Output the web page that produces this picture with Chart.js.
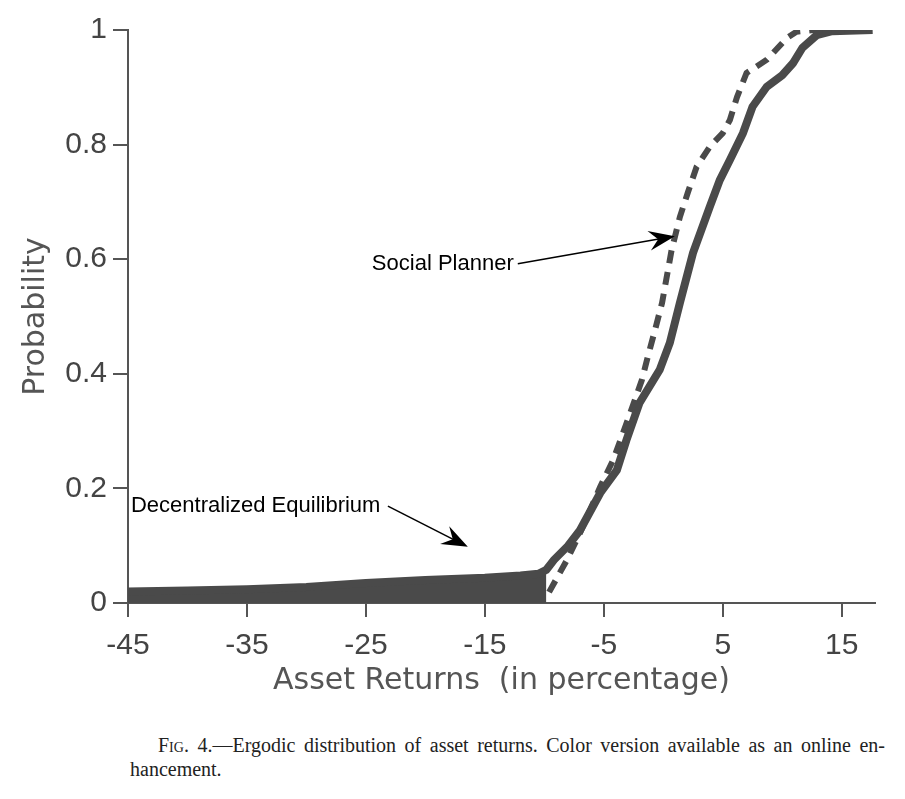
<!DOCTYPE html>
<html>
<head>
<meta charset="utf-8">
<script src="https://cdn.jsdelivr.net/npm/chart.js@4"></script>
<style>
  body { margin: 0; background: #fff; }
  #wrap { position: relative; width: 905px; height: 799px; }
  #chart { position: absolute; left: 0; top: 0; }
  .caption { position: absolute; left: 130px; top: 733px; width: 755px;
    font-family: "Liberation Serif", "DejaVu Serif", serif; font-size: 20px; line-height: 24px; color: #222; }
  .l1 { text-indent: 28px; text-align: justify; text-align-last: justify; }
  .sc { font-variant: small-caps; }
</style>
</head>
<body>
<div id="wrap">
  <canvas id="chart" width="905" height="700"></canvas>
  <div class="caption">
    <div class="l1"><span class="sc">Fig.</span> 4.—Ergodic distribution of asset returns. Color version available as an online en-</div>
    <div>hancement.</div>
  </div>
</div>
<script>
// data
var xTicks = [-45, -35, -25, -15, -5, 5, 15];
var yTicks = [0, 0.2, 0.4, 0.6, 0.8, 1];

var decX = [-45, -40, -35, -30, -25, -20, -15, -12, -10.5, -9.83, -9.2, -8, -7, -5.3, -3.9, -3.1, -2.0, -0.3, 0.55, 1.4, 2.5, 3.9, 4.75, 5.6, 6.7, 7.5, 8.7, 10.0, 10.9, 11.7, 12.9, 14.2, 17.6];
var decY = [0.020, 0.022, 0.024, 0.028, 0.035, 0.040, 0.044, 0.048, 0.051, 0.058, 0.075, 0.100, 0.127, 0.192, 0.232, 0.284, 0.349, 0.407, 0.454, 0.524, 0.611, 0.691, 0.738, 0.773, 0.820, 0.866, 0.901, 0.921, 0.942, 0.969, 0.991, 0.998, 1.0];

// shaded part of the decentralized curve
var shadeX = [-45, -40, -35, -30, -25, -20, -15, -12, -10.5, -9.83];
var shadeY = [0.020, 0.022, 0.024, 0.028, 0.035, 0.040, 0.044, 0.048, 0.051, 0.058];

var planX = [-9.6, -8.1, -7.0, -5.3, -4.2, -3.4, -2.6, -1.8, -1.3, -0.7, -0.1, 0.7, 1.4, 2.06, 2.8, 3.9, 5.0, 5.6, 6.2, 7.0, 8.7, 10.4, 11.2, 12.6, 17.6];
var planY = [0.019, 0.075, 0.122, 0.203, 0.250, 0.296, 0.342, 0.389, 0.430, 0.476, 0.524, 0.616, 0.674, 0.716, 0.761, 0.796, 0.820, 0.843, 0.883, 0.925, 0.948, 0.986, 0.997, 1.0, 1.0];

// annotation labels in data units
var notes = [
  { text: 'Social Planner', x: -24.5, y: 0.592, from: [-12.23, 0.592], to: [0.97, 0.640] },
  { text: 'Decentralized Equilibrium', x: -44.75, y: 0.169, from: [-23.15, 0.169], to: [-16.43, 0.098] }
];

function pts(xs, ys) {
  return xs.map(function (x, i) { return { x: x, y: ys[i] }; });
}

var lineColor = '#4a4a4a';
var axisColor = '#555';

var notesPlugin = {
  id: 'notes',
  afterDatasetsDraw: function (chart) {
    var ctx = chart.ctx, xs = chart.scales.x, ys = chart.scales.y;
    ctx.save();
    ctx.font = '22px "Liberation Sans", Arial, sans-serif';
    ctx.fillStyle = '#000';
    ctx.strokeStyle = '#000';
    ctx.textBaseline = 'middle';
    notes.forEach(function (n) {
      ctx.fillText(n.text, xs.getPixelForValue(n.x), ys.getPixelForValue(n.y));
      var x0 = xs.getPixelForValue(n.from[0]), y0 = ys.getPixelForValue(n.from[1]);
      var x1 = xs.getPixelForValue(n.to[0]), y1 = ys.getPixelForValue(n.to[1]);
      var a = Math.atan2(y1 - y0, x1 - x0);
      var len = 26, half = 10;
      ctx.lineWidth = 1.5;
      ctx.beginPath();
      ctx.moveTo(x0, y0);
      ctx.lineTo(x1 - Math.cos(a) * 12, y1 - Math.sin(a) * 12);
      ctx.stroke();
      // swept arrow head
      var bx = x1 - Math.cos(a) * len, by = y1 - Math.sin(a) * len;
      var nx = x1 - Math.cos(a) * len * 0.65, ny = y1 - Math.sin(a) * len * 0.65;
      ctx.beginPath();
      ctx.moveTo(x1, y1);
      ctx.lineTo(bx - Math.sin(a) * half, by + Math.cos(a) * half);
      ctx.lineTo(nx, ny);
      ctx.lineTo(bx + Math.sin(a) * half, by - Math.cos(a) * half);
      ctx.closePath();
      ctx.fill();
    });
    ctx.restore();
  }
};

var ctx = document.getElementById('chart').getContext('2d');
var chart = new Chart(ctx, {
  type: 'line',
  data: {
    datasets: [
      {
        label: 'shade',
        data: pts(shadeX, shadeY),
        borderWidth: 0,
        pointRadius: 0,
        backgroundColor: lineColor,
        fill: 'origin',
        order: 3
      },
      {
        label: 'Decentralized Equilibrium',
        data: pts(decX, decY),
        borderColor: lineColor,
        borderWidth: 8,
        pointRadius: 0,
        fill: false,
        tension: 0,
        clip: 0,
        order: 2
      },
      {
        label: 'Social Planner',
        data: pts(planX, planY),
        borderColor: lineColor,
        borderWidth: 6,
        borderDash: [13, 9],
        borderCapStyle: 'butt',
        pointRadius: 0,
        fill: false,
        tension: 0,
        clip: 0,
        order: 1
      }
    ]
  },
  options: {
    responsive: false,
    animation: false,
    layout: { padding: { top: 30, right: 30, left: 0, bottom: 0 } },
    plugins: { legend: { display: false }, tooltip: { enabled: false } },
    scales: {
      x: {
        type: 'linear',
        min: -45,
        max: 17.8,
        afterBuildTicks: function (s) { s.ticks = xTicks.map(function (v) { return { value: v }; }); },
        afterFit: function (s) { s.height = 97; },
        grid: { display: true, drawOnChartArea: false, drawTicks: true, tickLength: 14, color: axisColor, lineWidth: 2 },
        border: { display: true, color: axisColor, width: 2 },
        ticks: {
          padding: 11,
          color: '#444',
          maxRotation: 0,
          font: { family: '"Liberation Sans", Arial, sans-serif', size: 30 },
          callback: function (v) { return String(v); }
        },
        title: {
          display: true,
          text: 'Asset Returns  (in percentage)',
          color: '#555',
          font: { family: '"DejaVu Sans", sans-serif', size: 30 },
          padding: { top: 0, bottom: 1 }
        }
      },
      y: {
        type: 'linear',
        min: 0,
        max: 1,
        afterBuildTicks: function (s) { s.ticks = yTicks.map(function (v) { return { value: v }; }); },
        afterFit: function (s) { s.width = 128; },
        grid: { display: true, drawOnChartArea: false, drawTicks: true, tickLength: 15, color: axisColor, lineWidth: 2 },
        border: { display: true, color: axisColor, width: 2 },
        ticks: {
          padding: 6,
          color: '#444',
          font: { family: '"Liberation Sans", Arial, sans-serif', size: 30 },
          callback: function (v) { return String(Math.round(v * 10) / 10); }
        },
        title: {
          display: true,
          text: 'Probability',
          color: '#555',
          font: { family: '"DejaVu Sans", sans-serif', size: 30 },
          padding: { top: 18, bottom: 0 }
        }
      }
    }
  },
  plugins: [notesPlugin]
});
</script>
</body>
</html>
